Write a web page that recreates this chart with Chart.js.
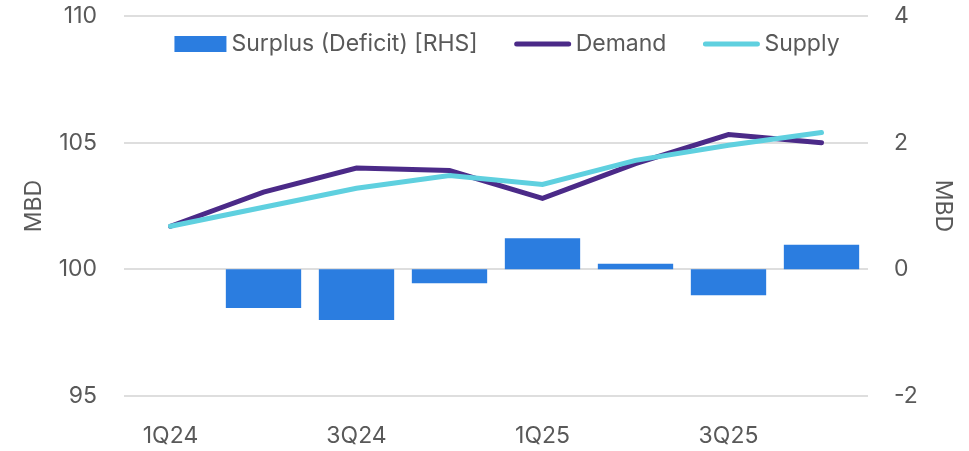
<!DOCTYPE html>
<html>
<head>
<meta charset="utf-8">
<script src="https://cdn.jsdelivr.net/npm/chart.js@4.4.1/dist/chart.umd.min.js"></script>
<style>
  html, body { margin: 0; padding: 0; background: #fff; }
  #wrap { width: 969px; height: 451px; }
</style>
</head>
<body>
<div id="wrap"><canvas id="myChart"></canvas></div>
<script>
const quarters = ['1Q24', '2Q24', '3Q24', '4Q24', '1Q25', '2Q25', '3Q25', '4Q25'];
const demand = [101.7, 103.05, 104.0, 103.9, 102.8, 104.17, 105.32, 105.0];
const supply = [101.7, 102.45, 103.2, 103.7, 103.35, 104.3, 104.9, 105.4];
const surplus = [0, -0.61, -0.8, -0.22, 0.49, 0.09, -0.41, 0.39];
const leftTicks = [95, 100, 105, 110];
const rightTicks = [-2, 0, 2, 4];

const textColor = '#595959';
const fontFamily = 'Inter, "Noto Sans", sans-serif';
const fontSize = 23;

// legend drawn inside the plot area, like the original
const innerLegend = {
    id: 'innerLegend',
    afterDraw(chart) {
        const c = chart.ctx;
        const area = chart.chartArea;
        const items = chart.data.datasets.map(ds => ({
            text: ds.label,
            color: ds.type === 'bar' ? ds.backgroundColor : ds.borderColor,
            isBar: ds.type === 'bar'
        }));
        c.save();
        c.font = fontSize + 'px ' + fontFamily;
        const swW = [52, 56, 56];
        const gapText = 5, gapItem = 37;
        let total = 0;
        items.forEach((it, i) => {
            it.w = c.measureText(it.text).width;
            total += swW[i] + gapText + it.w + (i < items.length - 1 ? gapItem : 0);
        });
        let x = (area.left + area.right) / 2 + 11 - total / 2;
        const y = 44;
        items.forEach((it, i) => {
            if (it.isBar) {
                c.fillStyle = it.color;
                c.fillRect(x, y - 8, swW[i], 16);
            } else {
                c.strokeStyle = it.color;
                c.lineWidth = 5;
                c.lineCap = 'round';
                c.beginPath();
                c.moveTo(x + 2, y);
                c.lineTo(x + swW[i] - 2, y);
                c.stroke();
            }
            x += swW[i] + gapText;
            c.fillStyle = textColor;
            c.textBaseline = 'middle';
            c.textAlign = 'left';
            c.fillText(it.text, x, y);
            x += it.w + gapItem;
        });
        c.restore();
    }
};

const ctx = document.getElementById('myChart').getContext('2d');

const data = {
    labels: quarters,
    datasets: [{
        type: 'bar',
        label: 'Surplus (Deficit) [RHS]',
        data: surplus,
        yAxisID: 'y1',
        backgroundColor: '#2b7de0',
        borderWidth: 0,
        barPercentage: 0.81,
        categoryPercentage: 1,
        order: 2
    }, {
        type: 'line',
        label: 'Demand',
        data: demand,
        yAxisID: 'y',
        borderColor: '#4b2a88',
        backgroundColor: '#4b2a88',
        borderWidth: 5,
        borderCapStyle: 'round',
        pointRadius: 0,
        tension: 0,
        order: 1
    }, {
        type: 'line',
        label: 'Supply',
        data: supply,
        yAxisID: 'y',
        borderColor: '#5fd0df',
        backgroundColor: '#5fd0df',
        borderWidth: 5,
        borderCapStyle: 'round',
        pointRadius: 0,
        tension: 0,
        order: 0
    }]
};

function fixVertical(w) {
    return s => {
        s.width = w;
        s.paddingTop = 0;
        s.paddingBottom = 0;
    };
}

const config = {
    data: data,
    options: {
        responsive: true,
        maintainAspectRatio: false,
        animation: false,
        layout: { padding: { top: 16, left: 0, right: 0, bottom: 0 } },
        plugins: {
            legend: { display: false },
            tooltip: { enabled: false }
        },
        scales: {
            x: {
                grid: { display: false, drawTicks: false },
                border: { display: false },
                ticks: {
                    color: textColor,
                    font: { family: fontFamily, size: fontSize },
                    autoSkip: false,
                    maxRotation: 0,
                    padding: 26,
                    callback: function (v, i) {
                        return i % 2 === 0 ? this.getLabelForValue(v) : '';
                    }
                },
                afterFit: s => {
                    s.height = 55;
                    s.paddingLeft = 0;
                    s.paddingRight = 0;
                }
            },
            y: {
                position: 'left',
                min: 95,
                max: 110,
                afterBuildTicks: s => { s.ticks = leftTicks.map(v => ({ value: v })); },
                grid: { color: '#dedede', lineWidth: 2, drawTicks: false },
                border: { display: false },
                ticks: {
                    color: textColor,
                    font: { family: fontFamily, size: fontSize },
                    padding: 27
                },
                title: {
                    display: true,
                    text: 'MBD',
                    color: textColor,
                    font: { family: fontFamily, size: fontSize },
                    padding: { top: 20, bottom: 0 }
                },
                afterFit: fixVertical(124)
            },
            y1: {
                position: 'right',
                min: -2,
                max: 4,
                afterBuildTicks: s => { s.ticks = rightTicks.map(v => ({ value: v })); },
                grid: { display: false, drawTicks: false },
                border: { display: false },
                ticks: {
                    color: textColor,
                    font: { family: fontFamily, size: fontSize },
                    padding: 26
                },
                title: {
                    display: true,
                    text: 'MBD',
                    color: textColor,
                    font: { family: fontFamily, size: fontSize },
                    padding: { top: 12, bottom: 0 }
                },
                afterFit: fixVertical(101)
            }
        }
    },
    plugins: [innerLegend]
};

const myChart = new Chart(ctx, config);
</script>
</body>
</html>
